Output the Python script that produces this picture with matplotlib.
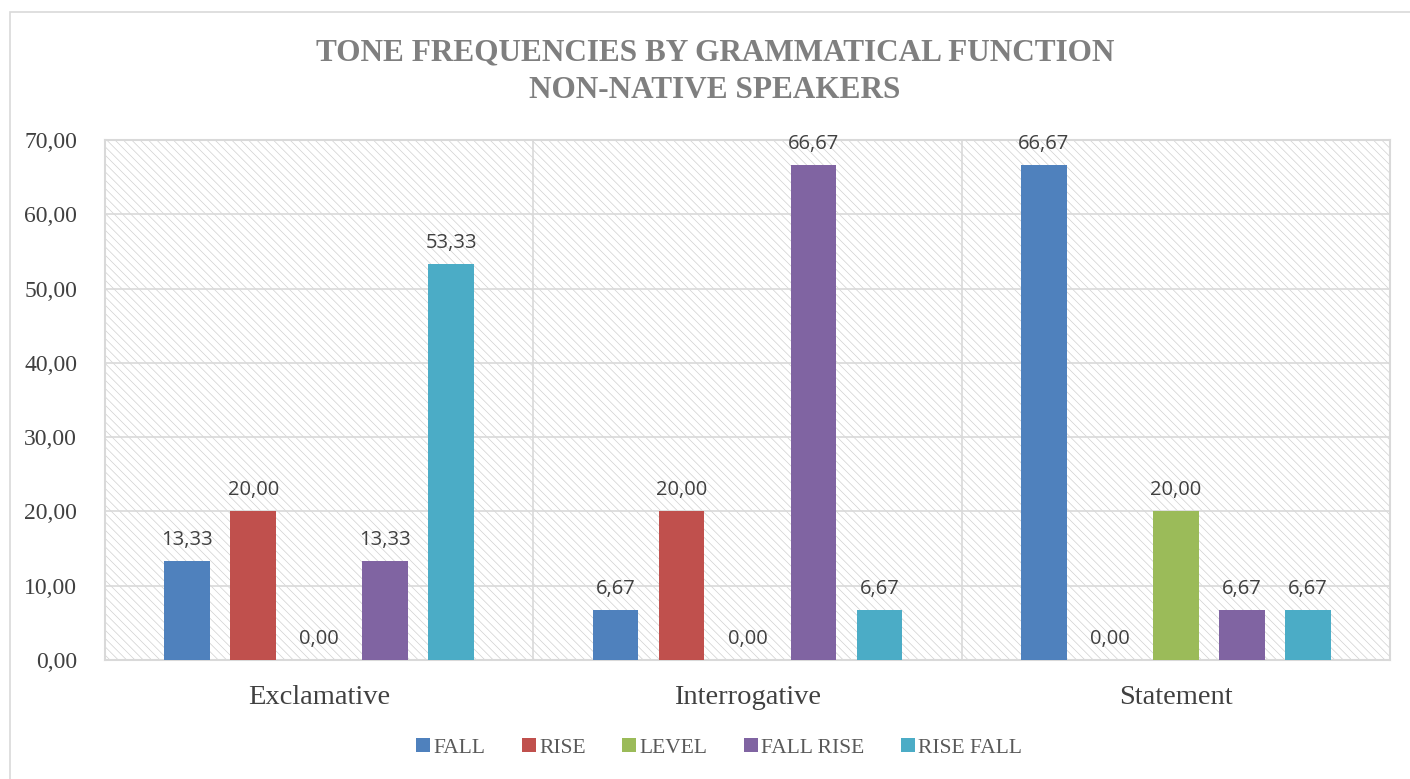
import numpy as np
import matplotlib
matplotlib.use("Agg")
import matplotlib.pyplot as plt
import matplotlib.patches as mpatches
from matplotlib.ticker import FuncFormatter

# chart data
categories = ["Exclamative", "Interrogative", "Statement"]
series = ["FALL", "RISE", "LEVEL", "FALL RISE", "RISE FALL"]
fall = [13.33, 6.67, 66.67]
rise = [20.00, 20.00, 0.00]
level = [0.00, 0.00, 20.00]
fall_rise = [13.33, 66.67, 6.67]
rise_fall = [53.33, 6.67, 6.67]
colors = ["#4f81bd", "#c0504d", "#9bbb59", "#8064a2", "#4bacc6"]

values = [fall, rise, level, fall_rise, rise_fall]

plt.rcParams['hatch.linewidth'] = 0.5
plt.rcParams['hatch.color'] = "#d0d0d0"

fig = plt.figure(figsize=(14.1, 7.79), dpi=100)
ax = fig.add_axes([105 / 1410, 1 - 660 / 779, 1285 / 1410, 520 / 779])

# hatched plot background
bg = mpatches.Rectangle((0, 0), 1, 1, transform=ax.transAxes, facecolor="white",
                        edgecolor="#d0d0d0", hatch="\\" * 4, lw=0, zorder=0)
ax.add_patch(bg)
ax.set_facecolor("white")

x = np.arange(len(categories))
step = 0.154
width = 0.107
for i, (name, vals, col) in enumerate(zip(series, values, colors)):
    pos = x + (i - 2) * step
    ax.bar(pos, vals, width, color=col, label=name, zorder=3)
    for p, v in zip(pos, vals):
        ax.annotate(f"{v:.2f}".replace(".", ","), (p, v), xytext=(0, 8),
                    textcoords="offset points", ha="center", va="bottom",
                    fontsize=14.5, color="#404040", family="Open Sans", zorder=4)

ax.set_xlim(-0.5, 2.5)
ax.set_ylim(0, 70)
ax.set_yticks(np.arange(0, 71, 10))
ax.yaxis.set_major_formatter(FuncFormatter(lambda v, _: f"{v:.2f}".replace(".", ",")))
ax.set_xticks(x)
ax.set_xticklabels(categories, family="Liberation Serif", fontsize=20.5, color="#404040")
ax.tick_params(axis="y", length=0, labelsize=17, labelcolor="#404040", pad=20)
ax.tick_params(axis="x", length=0, pad=18)
for lab in ax.get_yticklabels():
    lab.set_family("Liberation Serif")

ax.grid(axis="y", color="#d9d9d9", lw=1.2, zorder=1)
for b in [0.5, 1.5]:
    ax.axvline(b, color="#d9d9d9", lw=1.2, zorder=1)
for s in ax.spines.values():
    s.set_color("#d9d9d9")
    s.set_linewidth(1.5)

# outer chart border
fig.patches.append(mpatches.Rectangle((10 / 1410, -0.01), 1.0, 1 - 12 / 779 + 0.01,
                                      transform=fig.transFigure, fill=False,
                                      edgecolor="#d9d9d9", lw=1.2))

fig.text(0.507, 1 - 53 / 779, "TONE FREQUENCIES BY GRAMMATICAL FUNCTION",
         ha="center", va="center", fontsize=22.5, weight="bold",
         color="#7f7f7f", family="Liberation Serif")
fig.text(0.507, 1 - 91 / 779, "NON-NATIVE SPEAKERS",
         ha="center", va="center", fontsize=22.5, weight="bold",
         color="#7f7f7f", family="Liberation Serif")

leg = fig.legend(loc="center", bbox_to_anchor=(0.51, 1 - 748 / 779), ncol=5,
                 frameon=False, handlelength=0.65, handleheight=0.65,
                 handletextpad=0.15, columnspacing=1.7,
                 prop={"family": "Liberation Serif", "size": 15.5})
for t in leg.get_texts():
    t.set_color("#595959")

fig.savefig("out.png", dpi=100)
